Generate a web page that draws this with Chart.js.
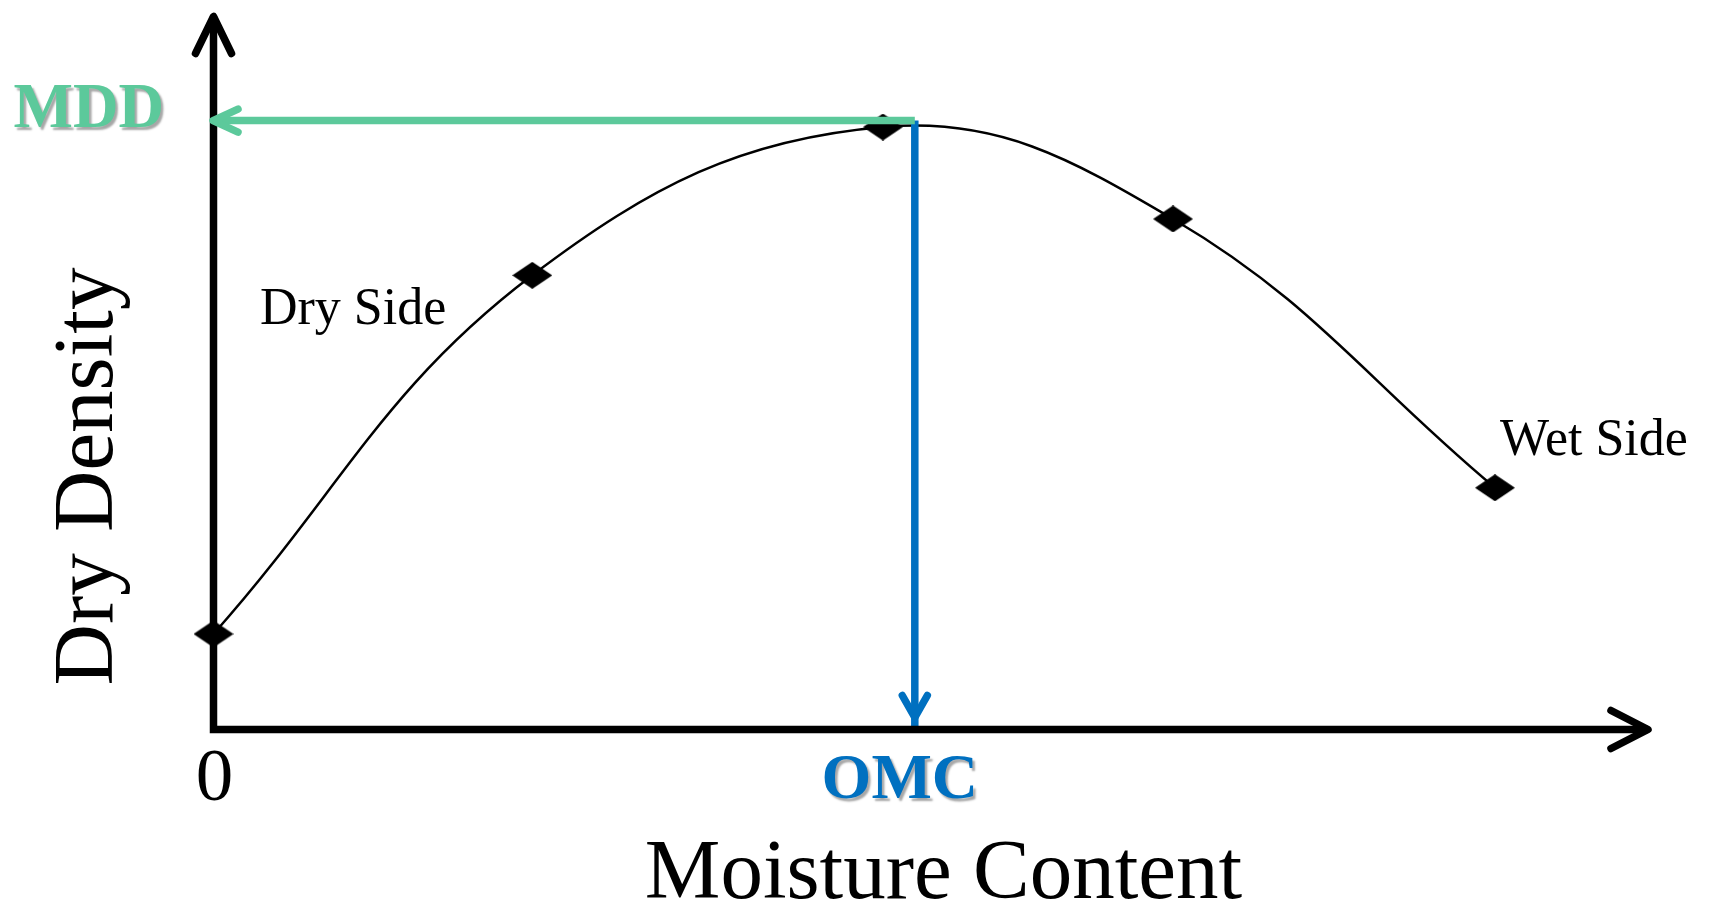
<!DOCTYPE html>
<html>
<head>
<meta charset="utf-8">
<title>Compaction Curve</title>
<script src="https://cdn.jsdelivr.net/npm/chart.js@4.4.1/dist/chart.umd.min.js"></script>
<style>
    html, body { margin: 0; padding: 0; background: #ffffff; overflow: hidden; }
    #wrap { width: 1710px; height: 916px; }
</style>
</head>
<body>
<div id="wrap"><canvas id="chartCompaction" width="1710" height="916"></canvas></div>
<script>
// Compaction test readings
const moistureContent = [0, 1.0, 2.1, 3.01, 4.02];
const dryDensity = [1.34, 6.37, 8.45, 7.16, 3.39];

// Optimum moisture content / maximum dry density
const omcValue = 2.2;
const mddValue = 8.54;

// Labels
const xTickLabels = ['0', 'OMC'];
const yTickLabels = ['MDD'];
const axisTitles = ['Moisture Content', 'Dry Density'];
const sideNotes = ['Dry Side', 'Wet Side'];

const colorMdd = '#5CC99B';
const colorOmc = '#0070C0';
const serif = '"Liberation Serif", "Times New Roman", serif';

// ============================================================================
// Diamond marker (a bit flatter than it is wide, like the original)
// ============================================================================
function makeDiamond(w, h) {
    const c = document.createElement('canvas');
    c.width = w;
    c.height = h;
    const g = c.getContext('2d');
    g.fillStyle = '#000';
    g.beginPath();
    g.moveTo(w / 2, 0);
    g.lineTo(w, h / 2);
    g.lineTo(w / 2, h);
    g.lineTo(0, h / 2);
    g.closePath();
    g.fill();
    return c;
}

function chevron(ctx, tx, ty, dx, dy, len, half) {
    ctx.beginPath();
    ctx.moveTo(tx - len * dx - half * dy, ty - len * dy + half * dx);
    ctx.lineTo(tx, ty);
    ctx.lineTo(tx - len * dx + half * dy, ty - len * dy - half * dx);
    ctx.stroke();
}

// Axes with arrow heads, guide arrow heads and the texts
const arrowsAndLabels = {
    id: 'arrowsAndLabels',
    afterDatasetsDraw(chart) {
        const { ctx, chartArea: a, scales: { x, y } } = chart;
        const x0 = x.getPixelForValue(0);
        const y0 = y.getPixelForValue(0);
        const xOmc = x.getPixelForValue(omcValue);
        const yMdd = y.getPixelForValue(mddValue);

        ctx.save();
        ctx.strokeStyle = '#000';
        ctx.lineWidth = 7.5;
        ctx.lineJoin = 'miter';
        ctx.lineCap = 'butt';
        ctx.beginPath();
        ctx.moveTo(x0, a.top);
        ctx.lineTo(x0, y0);
        ctx.lineTo(a.right, y0);
        ctx.stroke();

        ctx.lineCap = 'round';
        ctx.lineJoin = 'round';
        chevron(ctx, x0, a.top, 0, -1, 37, 18);
        chevron(ctx, a.right, y0, 1, 0, 37, 19);

        // MDD arrow head
        ctx.strokeStyle = colorMdd;
        chevron(ctx, x0 - 0.5, yMdd, -1, 0, 25, 11.5);

        // OMC arrow head
        ctx.strokeStyle = colorOmc;
        ctx.lineJoin = 'miter';
        chevron(ctx, xOmc, y0 - 12, 0, 1, 22, 12.5);
        ctx.restore();
    },
    afterDraw(chart) {
        const { ctx, scales: { x, y } } = chart;
        const x0 = x.getPixelForValue(0);
        const y0 = y.getPixelForValue(0);
        const xOmc = x.getPixelForValue(omcValue);
        const yMdd = y.getPixelForValue(mddValue);

        ctx.save();
        ctx.textBaseline = 'alphabetic';
        ctx.fillStyle = '#000';

        ctx.font = `85px ${serif}`;
        ctx.textAlign = 'center';
        ctx.fillText(axisTitles[0], 943.5, 898);

        ctx.save();
        ctx.translate(111.5, 476.5);
        ctx.rotate(-Math.PI / 2);
        ctx.fillText(axisTitles[1], 0, 0);
        ctx.restore();

        ctx.font = `75px ${serif}`;
        ctx.fillText(xTickLabels[0], x0 + 1, y0 + 70.5);

        ctx.font = `52px ${serif}`;
        ctx.textAlign = 'left';
        ctx.fillText(sideNotes[0], 260, 324);
        ctx.fillText(sideNotes[1], 1500, 455);

        // bold labels with soft shadow
        ctx.shadowColor = 'rgba(0, 0, 0, 0.35)';
        ctx.shadowOffsetX = 2.5;
        ctx.shadowOffsetY = 2.5;
        ctx.shadowBlur = 2;

        ctx.font = `bold 64px ${serif}`;
        ctx.textAlign = 'center';
        ctx.fillStyle = colorOmc;
        ctx.fillText(xTickLabels[1], xOmc - 15, y0 + 68.5);

        ctx.font = `bold 63px ${serif}`;
        ctx.textAlign = 'right';
        ctx.fillStyle = colorMdd;
        ctx.fillText(yTickLabels[0], x0 - 49.5, yMdd + 6.5);
        ctx.restore();
    }
};

const diamond = makeDiamond(40, 27);

const ctx = document.getElementById('chartCompaction').getContext('2d');
new Chart(ctx, {
    type: 'line',
    data: {
        datasets: [
            {
                label: 'MDD',
                data: [{ x: omcValue, y: mddValue }, { x: 0, y: mddValue }],
                borderColor: colorMdd,
                borderWidth: 7.5,
                borderCapStyle: 'butt',
                pointRadius: 0,
                tension: 0,
                order: 0
            },
            {
                label: 'OMC',
                data: [{ x: omcValue, y: mddValue }, { x: omcValue, y: 0 }],
                borderColor: colorOmc,
                borderWidth: 7.5,
                borderCapStyle: 'butt',
                pointRadius: 0,
                tension: 0,
                order: 0
            },
            {
                label: 'Dry Density',
                data: moistureContent.map((m, i) => ({ x: m, y: dryDensity[i] })),
                borderColor: '#000',
                borderWidth: 2.5,
                tension: 0.4,
                pointStyle: diamond,
                pointRadius: 14,
                pointHoverRadius: 14,
                clip: false,
                order: 1
            }
        ]
    },
    options: {
        responsive: false,
        animation: false,
        events: [],
        layout: {
            padding: { left: 213.5, right: 62, top: 14, bottom: 186.5 }
        },
        plugins: {
            legend: { display: false },
            tooltip: { enabled: false }
        },
        scales: {
            x: { type: 'linear', min: 0, max: 4.5, display: false },
            y: { type: 'linear', min: 0, max: 10, display: false }
        }
    },
    plugins: [arrowsAndLabels]
});
</script>
</body>
</html>
